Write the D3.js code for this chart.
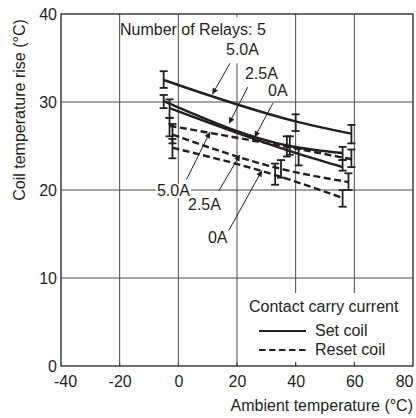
<!DOCTYPE html>
<html><head><meta charset="utf-8">
<script src="https://cdn.jsdelivr.net/npm/d3@7"></script>
<style>
html,body{margin:0;padding:0;background:#fff;}
svg{display:block;font-family:"Liberation Sans",Arial,Helvetica,sans-serif;}
</style>
</head><body>
<svg id="c" width="416" height="418"></svg>
<script>
// ---- data ----
const xTicks = [-40, -20, 0, 20, 40, 60, 80];
const yTicks = [0, 10, 20, 30, 40];
const currents = ["5.0A", "2.5A", "0A"];
const coils = ["Set coil", "Reset coil"];

// Set coil (solid)
const set50X = [-5, 40, 59],  set50Y = [32.5, 27.8, 26.4], set50Lo = [31.6, 26.7, 25.3], set50Hi = [33.5, 28.6, 27.4];
const set25X = [-5, 38, 56],  set25Y = [30.1, 25.0, 24.2], set25Lo = [29.3, 24.0, 23.4], set25Hi = [30.8, 26.1, 24.9];
const set0X  = [-3, 41, 56],  set0Y  = [29.3, 24.1, 22.6], set0Lo  = [28.2, 22.8, 22.2], set0Hi  = [30.3, 24.7, 23.4];
// Reset coil (dashed)
const res50X = [-3, 37, 59],  res50Y = [27.3, 24.9, 23.5], res50Lo = [26.1, 23.8, 22.6], res50Hi = [28.2, 26.1, 24.6];
const res25X = [-2, 35, 58],  res25Y = [26.3, 22.4, 20.9], res25Lo = [25.3, 21.4, 20.0], res25Hi = [27.5, 23.4, 21.9];
const res0X  = [-2, 33, 56],  res0Y  = [24.8, 21.7, 19.1], res0Lo  = [23.6, 20.6, 18.1], res0Hi  = [25.8, 23.0, 20.0];

const series = [
  {coil: 0, cur: 0, x: set50X, y: set50Y, lo: set50Lo, hi: set50Hi},
  {coil: 0, cur: 1, x: set25X, y: set25Y, lo: set25Lo, hi: set25Hi},
  {coil: 0, cur: 2, x: set0X,  y: set0Y,  lo: set0Lo,  hi: set0Hi},
  {coil: 1, cur: 0, x: res50X, y: res50Y, lo: res50Lo, hi: res50Hi},
  {coil: 1, cur: 1, x: res25X, y: res25Y, lo: res25Lo, hi: res25Hi},
  {coil: 1, cur: 2, x: res0X,  y: res0Y,  lo: res0Lo,  hi: res0Hi}
];

// annotation layout (data units)
const annSeries = [0, 1, 2, 3, 4, 5];
const annTextX = [16.25, 22.7, 30.6, -7.3, 3.3, 10.1];
const annTextY = [35.3, 32.6, 30.7, 19.3, 17.7, 14.0];
const annFromX = [17.6, 23.7, 32.3, 2.8, 13.8, 17.2];
const annFromY = [34.4, 31.7, 29.9, 21.2, 19.9, 15.4];
const annTipX  = [11.6, 17.3, 26.0, 10.8, 21.0, 28.5];

// ---- drawing ----
const W = 416, H = 418;
const m = {l: 61, r: 3, t: 14, b: 52};
const FS = 16;
const svg = d3.select("#c");
const ink = "#231f20";
const FONT = "Liberation Sans, Arial, sans-serif";
const x = d3.scaleLinear().domain([-40, 80]).range([m.l, W - m.r]);
const y = d3.scaleLinear().domain([0, 40]).range([H - m.b, m.t]);

const defs = svg.append("defs");
defs.append("marker").attr("id", "ah").attr("viewBox", "0 0 10 10")
  .attr("refX", 10).attr("refY", 5).attr("markerWidth", 8).attr("markerHeight", 6)
  .attr("markerUnits", "userSpaceOnUse").attr("orient", "auto")
  .append("path").attr("d", "M0,0L10,5L0,10z").attr("fill", ink);

// grid
const g = svg.append("g");
g.selectAll("line.gx").data(xTicks.slice(1, -1)).join("line")
  .attr("x1", d => x(d)).attr("x2", d => x(d)).attr("y1", y(0)).attr("y2", y(40))
  .attr("stroke", "#4a4a4a").attr("stroke-width", 1);
g.selectAll("line.gy").data(yTicks.slice(1, -1)).join("line")
  .attr("x1", x(-40)).attr("x2", x(80)).attr("y1", d => y(d)).attr("y2", d => y(d))
  .attr("stroke", "#4a4a4a").attr("stroke-width", 1);

// white gap in the 20° gridline behind the upper labels
svg.append("rect").attr("x", x(20) - 2).attr("y", y(39.6)).attr("width", 4).attr("height", y(34.4) - y(39.6)).attr("fill", "#fff");

// legend background
svg.append("rect").attr("x", x(20) + 3).attr("y", 293).attr("width", x(80) - x(20) - 4)
  .attr("height", y(0) - 297).attr("fill", "#fff");

// inner x ticks
svg.append("g").selectAll("line").data(xTicks.slice(1, -1)).join("line")
  .attr("x1", d => x(d)).attr("x2", d => x(d)).attr("y1", y(0)).attr("y2", y(0) - 4)
  .attr("stroke", "#4a4a4a");

// axes
const xAxis = d3.axisBottom(x).tickValues(xTicks).tickFormat(d => String(d)).tickSize(0).tickPadding(0);
const xa = svg.append("g").attr("transform", `translate(0,${y(0)})`).call(xAxis);
xa.select(".domain").remove();
xa.selectAll("text").attr("font-size", FS).attr("fill", ink).attr("dy", 0).attr("y", 21)
  .attr("font-family", FONT)
  .attr("text-anchor", (d, i) => i === xTicks.length - 1 ? "end" : "middle")
  .attr("x", (d, i) => i === 0 ? 4 : 0);

const yAxis = d3.axisLeft(y).tickValues(yTicks).tickFormat(d => String(d)).tickSize(0).tickPadding(4);
const ya = svg.append("g").attr("transform", `translate(${x(-40)},0)`).call(yAxis);
ya.select(".domain").remove();
ya.selectAll("text").attr("font-size", FS).attr("fill", ink).attr("font-family", FONT);

// border
svg.append("rect").attr("x", x(-40)).attr("y", y(40)).attr("width", x(80) - x(-40)).attr("height", y(0) - y(40))
  .attr("fill", "none").attr("stroke", ink).attr("stroke-width", 1.3);

// axis titles
svg.append("text").attr("transform", `translate(25,110) rotate(-90)`)
  .attr("text-anchor", "middle").attr("font-size", FS).attr("fill", ink).text("Coil temperature rise (°C)");
svg.append("text").attr("x", x(80)).attr("y", 411).attr("text-anchor", "end")
  .attr("font-size", FS).attr("fill", ink).text("Ambient temperature (°C)");

// "Number of Relays" label
svg.append("text").attr("x", x(-19.9)).attr("y", y(37.6)).attr("font-size", FS).attr("fill", ink)
  .text("Number of Relays: 5");

// series
const lineGen = d3.line().x(d => x(d[0])).y(d => y(d[1])).curve(d3.curveMonotoneX);
const sg = svg.append("g");
series.forEach(s => {
  const pts = s.x.map((v, i) => [v, s.y[i]]);
  sg.append("path").attr("d", lineGen(pts)).attr("fill", "none").attr("stroke", ink)
    .attr("stroke-width", 2.4).attr("stroke-dasharray", s.coil === 1 ? "7,3.5" : null);
  s.x.forEach((v, i) => {
    const eb = sg.append("g").attr("stroke", ink).attr("stroke-width", 1.8);
    eb.append("line").attr("x1", x(v)).attr("x2", x(v)).attr("y1", y(s.lo[i])).attr("y2", y(s.hi[i]));
    eb.append("line").attr("x1", x(v) - 4).attr("x2", x(v) + 4).attr("y1", y(s.lo[i])).attr("y2", y(s.lo[i]));
    eb.append("line").attr("x1", x(v) - 4).attr("x2", x(v) + 4).attr("y1", y(s.hi[i])).attr("y2", y(s.hi[i]));
  });
});

function valueAt(s, xv) {
  return d3.scaleLinear().domain(s.x).range(s.y)(xv);
}

// annotations
const ag = svg.append("g");
annSeries.forEach((si, i) => {
  const s = series[si];
  const t = ag.append("text").attr("x", x(annTextX[i])).attr("y", y(annTextY[i]))
    .attr("font-size", FS).attr("fill", ink).text(currents[s.cur]);
  const bb = t.node().getBBox();
  ag.insert("rect", () => t.node()).attr("x", bb.x - 1).attr("y", bb.y + 2)
    .attr("width", bb.width + 2).attr("height", bb.height - 3).attr("fill", "#fff");
  ag.append("line").attr("x1", x(annFromX[i])).attr("y1", y(annFromY[i]))
    .attr("x2", x(annTipX[i])).attr("y2", y(valueAt(s, annTipX[i])) - 1)
    .attr("stroke", ink).attr("stroke-width", 1).attr("marker-end", "url(#ah)");
});

// legend content
const leg = svg.append("g");
leg.append("text").attr("x", 249).attr("y", 312).attr("font-size", FS).attr("fill", ink).text("Contact carry current");
coils.forEach((c, i) => {
  const ly = 331 + i * 19;
  leg.append("line").attr("x1", 259).attr("x2", 306).attr("y1", ly).attr("y2", ly)
    .attr("stroke", ink).attr("stroke-width", 2.2).attr("stroke-dasharray", i === 1 ? "6.5,3.5" : null);
  leg.append("text").attr("x", 315).attr("y", ly + 5).attr("font-size", FS).attr("fill", ink).text(c);
});
</script>
</body></html>
